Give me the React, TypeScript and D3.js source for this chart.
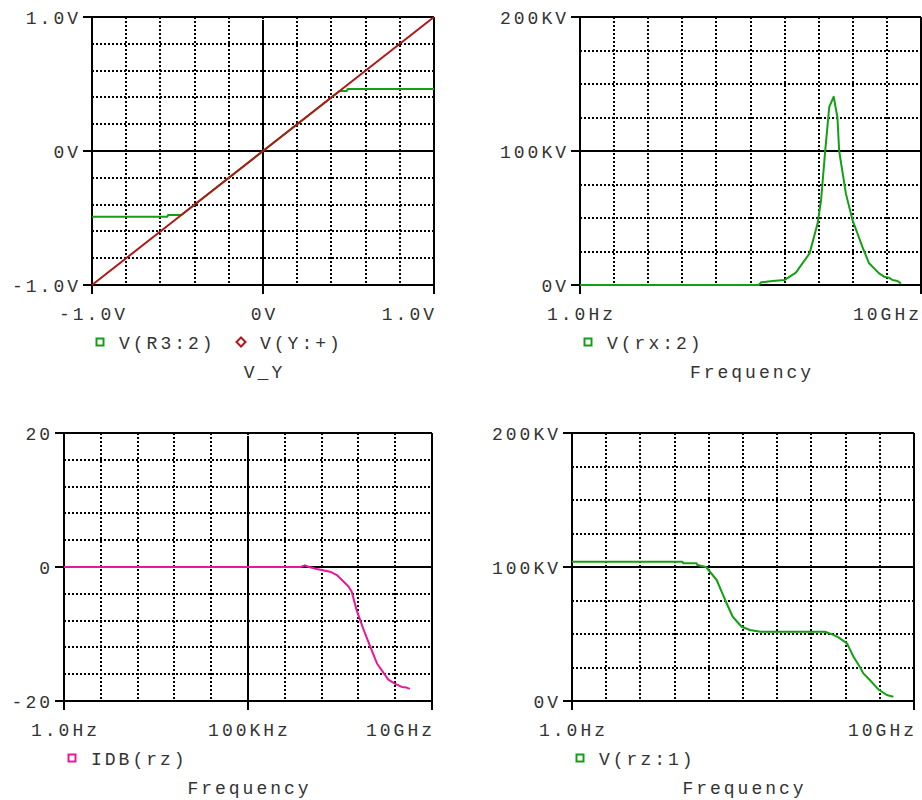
import React, { useRef, useEffect } from 'react';
import * as d3 from 'd3';

// DC sweep of V_Y (volts)
const sweepR3 = [-1, -0.56, -0.555, -0.478, -0.3, 0, 0.3, 0.448, 0.49, 0.495, 1];
const vR3 = [-0.49, -0.49, -0.478, -0.478, -0.3, 0, 0.3, 0.448, 0.448, 0.463, 0.463];
const sweepY = [-1, -0.5, 0, 0.5, 1];
const vYplus = [-1, -0.5, 0, 0.5, 1];

// AC sweep, V(rx:2) in kV
const freqRx = [1, 1.74e5, 2.04e5, 4.47e5, 9.8e5, 2.14e6, 5.4e6, 9.3e6, 1.17e7, 1.55e7, 2.04e7, 2.75e7,
  3.55e7, 3.98e7, 6.3e7, 9.8e7, 1.9e8, 3.0e8, 5.9e8, 8.3e8, 1.15e9, 1.45e9, 2.04e9, 2.57e9];
const vRx = [0, 0, 2.0, 3.0, 3.7, 9.2, 23.6, 46, 63, 100, 133, 140.5,
  125, 100, 68, 48.5, 28.6, 16.2, 8.7, 6.2, 5.5, 3.7, 3.0, 1.2];

// AC sweep, IDB(rz) in dB
const freqRz = [1, 2.7e6, 3.5e6, 4.6e6, 7.4e6, 1.7e7, 2.6e7, 5.4e7, 6.6e7, 8.9e7, 1.35e8, 2.1e8,
  3.2e8, 6.5e8, 9.8e8, 1.5e9, 2.04e9, 2.5e9];
const idbRz = [0, 0, 0.25, 0, -0.3, -0.7, -1.2, -2.9, -3.7, -6.4, -9.2, -11.9,
  -14.4, -16.8, -17.4, -17.9, -18.0, -18.2];

// AC sweep, V(rz:1) in kV
const freqRz1 = [1, 1.7e3, 1.8e3, 4.4e3, 4.6e3, 8.3e3, 1.7e4, 3.0e4, 5.0e4, 9.1e4, 1.6e5, 3.2e5,
  2.5e7, 4.4e7, 6.2e7, 1.1e8, 1.7e8, 2.6e8, 3.3e8, 5.1e8, 9.1e8, 1.6e9, 2.5e9];
const vRz1 = [104, 104, 102.8, 102.8, 101.5, 100, 90.3, 75.4, 62.9, 55.4, 53, 51.7,
  51.7, 49.3, 47.5, 43, 33, 25.6, 20.6, 15.7, 8.7, 4.5, 3.2];

// grid / tick values
const gridV = [-1, -0.8, -0.6, -0.4, -0.2, 0, 0.2, 0.4, 0.6, 0.8, 1];
const gridKV = [0, 25, 50, 75, 100, 125, 150, 175, 200];
const gridDB = [-20, -16, -12, -8, -4, 0, 4, 8, 12, 16, 20];
const gridDecades = [1, 1e1, 1e2, 1e3, 1e4, 1e5, 1e6, 1e7, 1e8, 1e9, 1e10];

const labelsV = [[-1, '-1.0V'], [0, '0V'], [1, '1.0V']];
const labelsKV = [[0, '0V'], [100, '100KV'], [200, '200KV']];
const labelsDB = [[-20, '-20'], [0, '0'], [20, '20']];
const labelsHz = [[1, '1.0Hz'], [1e10, '10GHz']];
const labelsHz3 = [[1, '1.0Hz'], [1e5, '100KHz'], [1e10, '10GHz']];

const GREEN = '#14a014';
const RED = '#b01818';
const MAGENTA = '#e8189c';
const FONT = "'Liberation Mono', 'DejaVu Sans Mono', monospace";
const LS = 3;

const panels = [
  {
    left: 92, right: 434, top: 17, bottom: 285, log: false,
    xDomain: [-1, 1], yDomain: [-1, 1], xGrid: gridV, yGrid: gridV,
    xSolid: [0], ySolid: [0], xLabels: labelsV, yLabels: labelsV, title: 'V_Y',
    series: [
      { x: sweepR3, y: vR3, color: GREEN, name: 'V(R3:2)', marker: 'square' },
      { x: sweepY, y: vYplus, color: RED, name: 'V(Y:+)', marker: 'diamond' },
    ],
  },
  {
    left: 580, right: 921, top: 17, bottom: 285, log: true,
    xDomain: [1, 1e10], yDomain: [0, 200], xGrid: gridDecades, yGrid: gridKV,
    xSolid: [], ySolid: [100], xLabels: labelsHz, yLabels: labelsKV, title: 'Frequency',
    series: [{ x: freqRx, y: vRx, color: GREEN, name: 'V(rx:2)', marker: 'square' }],
  },
  {
    left: 64, right: 432, top: 433, bottom: 701, log: true,
    xDomain: [1, 1e10], yDomain: [-20, 20], xGrid: gridDecades, yGrid: gridDB,
    xSolid: [1e5], ySolid: [0], xLabels: labelsHz3, yLabels: labelsDB, title: 'Frequency',
    series: [{ x: freqRz, y: idbRz, color: MAGENTA, name: 'IDB(rz)', marker: 'square' }],
  },
  {
    left: 572, right: 914, top: 433, bottom: 701, log: true,
    xDomain: [1, 1e10], yDomain: [0, 200], xGrid: gridDecades, yGrid: gridKV,
    xSolid: [], ySolid: [100], xLabels: labelsHz, yLabels: labelsKV, title: 'Frequency',
    series: [{ x: freqRz1, y: vRz1, color: GREEN, name: 'V(rz:1)', marker: 'square' }],
  },
];

function drawPanel(svg, p) {
  const g = svg.append('g');
  const x = (p.log ? d3.scaleLog() : d3.scaleLinear()).domain(p.xDomain).range([p.left, p.right]);
  const y = d3.scaleLinear().domain(p.yDomain).range([p.bottom, p.top]);

  // dotted grid
  g.selectAll(null).data(p.xGrid).enter().append('line')
    .attr('x1', d => Math.round(x(d))).attr('x2', d => Math.round(x(d)))
    .attr('y1', p.top).attr('y2', p.bottom)
    .attr('stroke', '#000').attr('stroke-width', 2)
    .attr('stroke-dasharray', '2,2');
  g.selectAll(null).data(p.yGrid).enter().append('line')
    .attr('x1', p.left).attr('x2', p.right)
    .attr('y1', d => Math.round(y(d))).attr('y2', d => Math.round(y(d)))
    .attr('stroke', '#000').attr('stroke-width', 2)
    .attr('stroke-dasharray', '2,2');

  // solid frame, zero lines and ticks
  const solid = (x1, y1, x2, y2) => g.append('line')
    .attr('x1', x1).attr('y1', y1).attr('x2', x2).attr('y2', y2)
    .attr('stroke', '#000').attr('stroke-width', 2);
  solid(p.left - 9, p.top, p.right, p.top);
  solid(p.left - 9, p.bottom, p.right, p.bottom);
  solid(p.left, p.top, p.left, p.bottom + 9);
  solid(p.right, p.top, p.right, p.bottom + 9);
  p.ySolid.forEach(v => solid(p.left - 9, Math.round(y(v)), p.right, Math.round(y(v))));
  p.xSolid.forEach(v => solid(Math.round(x(v)), p.top + 3, Math.round(x(v)), p.bottom + 9));

  const text = (tx, ty, s, anchor) => g.append('text')
    .attr('x', tx).attr('y', ty).attr('text-anchor', anchor)
    .attr('font-family', FONT).attr('font-size', 18)
    .attr('letter-spacing', LS).attr('fill', '#333').text(s);

  p.yLabels.forEach(([v, s]) => text(p.left - 11, y(v) + 6.5, s, 'end'));
  p.xLabels.forEach(([v, s]) => {
    if (v === p.xDomain[1]) text(Math.min(x(v) + LS, 922), p.bottom + 35, s, 'end');
    else text(x(v) + LS / 2, p.bottom + 35, s, 'middle');
  });

  // traces
  p.series.forEach(s => {
    const pts = s.x.map((v, i) => [v, s.y[i]]);
    g.append('path')
      .datum(pts)
      .attr('fill', 'none')
      .attr('stroke', s.color)
      .attr('stroke-width', 2)
      .attr('stroke-linejoin', 'round')
      .attr('d', d3.line().x(d => x(d[0])).y(d => y(d[1])));
  });

  // legend
  let lx = p.left + 8;
  const ly = p.bottom + 57;
  p.series.forEach(s => {
    if (s.marker === 'square') {
      g.append('rect').attr('x', lx - 3.5).attr('y', ly - 3.5)
        .attr('width', 7).attr('height', 7)
        .attr('fill', 'none').attr('stroke', s.color).attr('stroke-width', 2);
    } else {
      g.append('path')
        .attr('d', `M${lx},${ly - 4.5}L${lx + 4.5},${ly}L${lx},${ly + 4.5}L${lx - 4.5},${ly}Z`)
        .attr('fill', 'none').attr('stroke', s.color).attr('stroke-width', 2);
    }
    text(lx + 19, ly + 6.5, s.name, 'start');
    lx += 141;
  });

  text((p.left + p.right) / 2 + LS / 2, p.bottom + 93, p.title, 'middle');
}

export default function App() {
  const ref = useRef(null);

  useEffect(() => {
    const svg = d3.select(ref.current);
    svg.selectAll('*').remove();
    svg.append('rect').attr('width', 922).attr('height', 800).attr('fill', '#fff');
    panels.forEach(p => drawPanel(svg, p));
  }, []);

  return (
    <svg ref={ref} width={922} height={800}
      style={{ position: 'absolute', left: 0, top: 0, display: 'block' }} />
  );
}
